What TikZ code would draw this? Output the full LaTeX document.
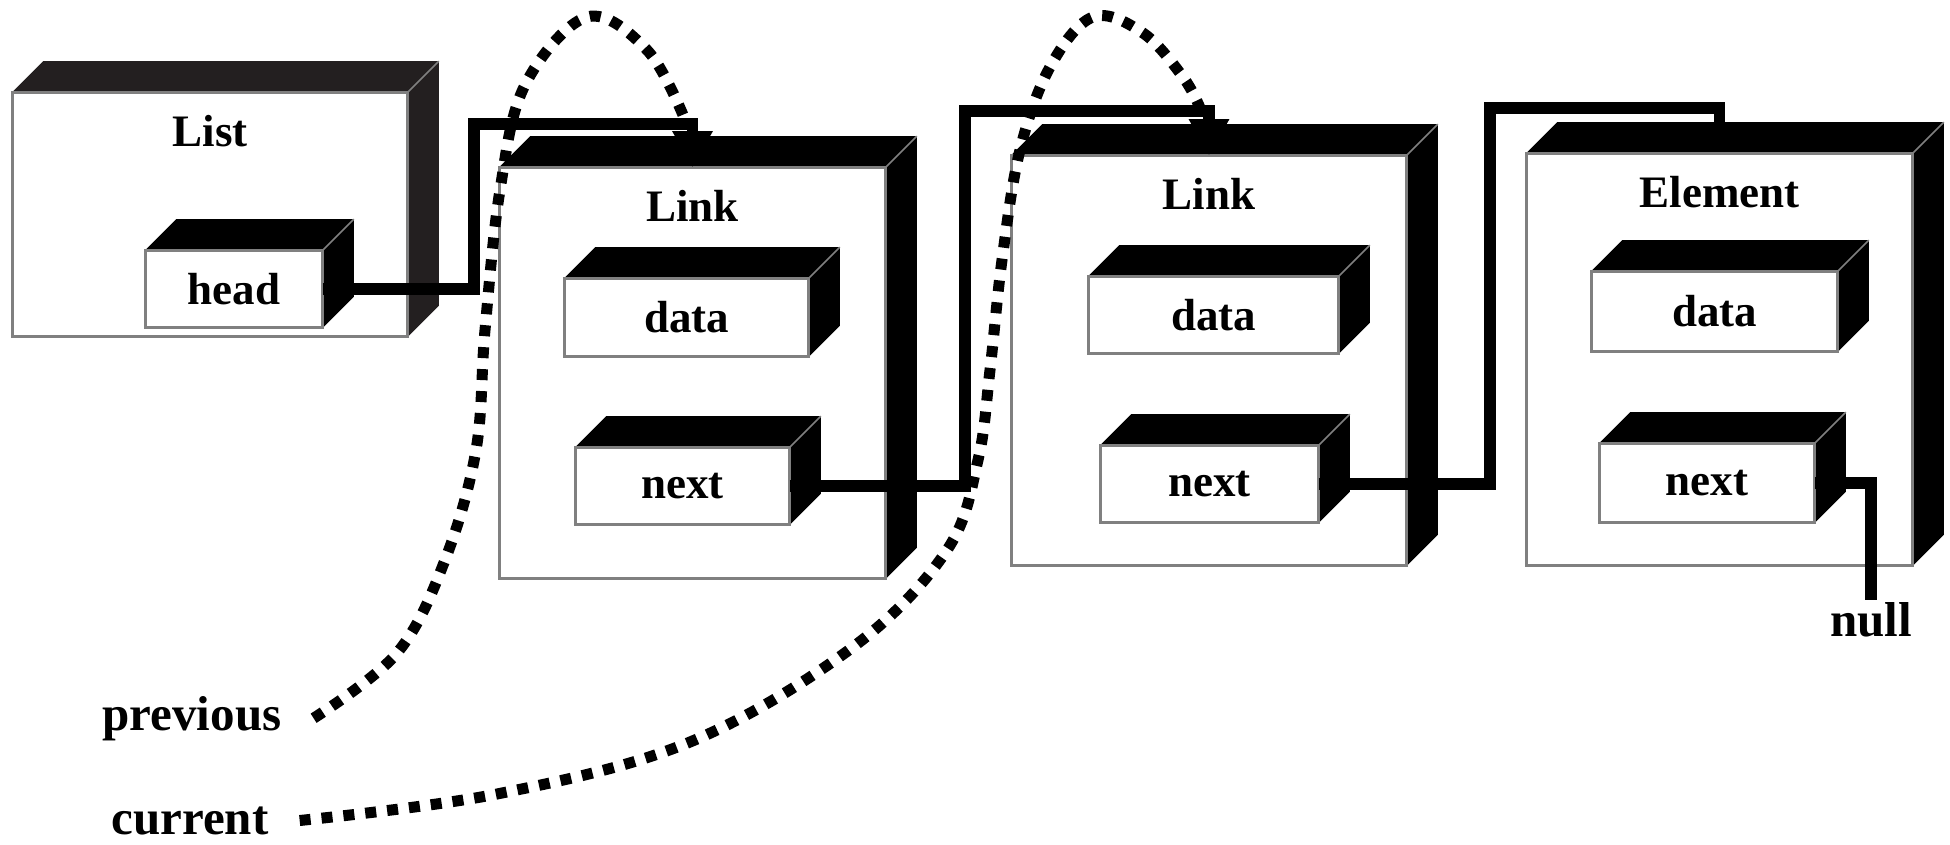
\documentclass[tikz,border=0pt]{standalone}
\usepackage{fontspec}
\setmainfont{Liberation Serif}
\usepackage{tikz}
\usetikzlibrary{positioning}
\usetikzlibrary{arrows.meta}
\usetikzlibrary{calc}
\definecolor{darkface}{HTML}{231F20}
\newcommand\boxdepth{31}
\newcommand\boxfaces[2][black]{%
  \fill[#1] (#2.north west) -- ++(\boxdepth,-\boxdepth) -- ([shift={(\boxdepth,-\boxdepth)}]#2.north east) -- ([shift={(\boxdepth,-\boxdepth)}]#2.south east) -- (#2.south east) -- (#2.north east) -- cycle;
  \draw[rim] (#2.north east) -- ++(\boxdepth,-\boxdepth);
  \draw[rim] (#2.north west) rectangle (#2.south east);
}
\tikzset{
    rim/.style = {draw=gray, line width=1.6pt},
    panel/.style = {rim, fill=white, inner sep=0pt, font=\bfseries\fontsize{45}{50}\selectfont},
    title/.style = {anchor=base, font=\bfseries\fontsize{45}{50}\selectfont},
    varname/.style = {anchor=base, inner sep=2pt, font=\bfseries\fontsize{49}{55}\selectfont},
    wire/.style = {line width=11.5pt, line join=miter},
    pointer/.style = {wire, -{Triangle[length=36pt,width=38pt]}},
    walker/.style = {line width=11pt, dash pattern=on 11pt off 11pt},
}

\begin{document}
\begin{tikzpicture}[x=1pt, y=-1pt]
         \useasboundingbox (0,0) rectangle (1950,845);
         % --- List
         \node[panel, minimum width=394pt, minimum height=243pt] (list) at (210,214.5) {};
         \boxfaces[darkface]{list}
         \node[title] (listname) at ([yshift=-54pt]list.north) {List};
         \node[panel, minimum width=176pt, minimum height=76pt] (head) at (234,289) {head};
         \boxfaces{head}
         % --- first Link
         \node[panel, minimum width=385pt, minimum height=410pt] (link1) at (692.5,373) {};
         \boxfaces{link1}
         \node[title] (link1name) at ([yshift=-54pt]link1.north) {Link};
         \node[panel, minimum width=243pt, minimum height=77pt] (data1) at (686.5,317.5) {data};
         \boxfaces{data1}
         \node[panel, minimum width=213pt, minimum height=76pt] (next1) at (682.5,486) {next};
         \boxfaces{next1}
         % --- second Link
         \node[panel, minimum width=394pt, minimum height=409pt] (link2) at (1209,360.5) {};
         \boxfaces{link2}
         \node[title] (link2name) at ([yshift=-54pt]link2.north) {Link};
         \node[panel, minimum width=249pt, minimum height=76pt] (data2) at (1213.5,315) {data};
         \boxfaces{data2}
         \node[panel, minimum width=217pt, minimum height=76pt] (next2) at (1209.5,484) {next};
         \boxfaces{next2}
         % --- Element
         \node[panel, minimum width=385pt, minimum height=411pt] (element) at (1719.5,359.5) {};
         \boxfaces{element}
         \node[title] (elementname) at ([yshift=-54pt]element.north) {Element};
         \node[panel, minimum width=245pt, minimum height=79pt] (data3) at (1714.5,311.5) {data};
         \boxfaces{data3}
         \node[panel, minimum width=214pt, minimum height=78pt] (next3) at (1707,483) {next};
         \boxfaces{next3}
         % --- Labels
         \node[varname] (null) at (1871,636) {null};
         \node[varname] (previous) at (192,730) {previous};
         \node[varname] (current) at (190,834) {current};
         % --- Pointers
         \draw[pointer] (head.east) -| (474,124) -| (link1.north);
         \draw[pointer] (next1.east) -| (965,111) -| (link2.north);
         \draw[wire] (next2.east) -| (1490,108) -| ($(element.north)+(0,-\boxdepth)$);
         \draw[wire] (next3.east) -| (null.north);
         % --- Walkers
         \draw[walker] plot[smooth, tension=0.6] coordinates {([xshift=30pt]previous.east) (397,653) (445,560) (476,450) (485,330) (500,190) (525,85) (587,17) (647,50) (683,115)};
         \draw[walker] plot[smooth, tension=0.6] coordinates {([xshift=29pt]current.east) (497,794) (690,742) (853,647) (947,550) (978,460) (990,370) (1002,260) (1020,150) (1050,67) (1093,17) (1143,33) (1183,77) (1200,108)};
       \end{tikzpicture}
\end{document}
